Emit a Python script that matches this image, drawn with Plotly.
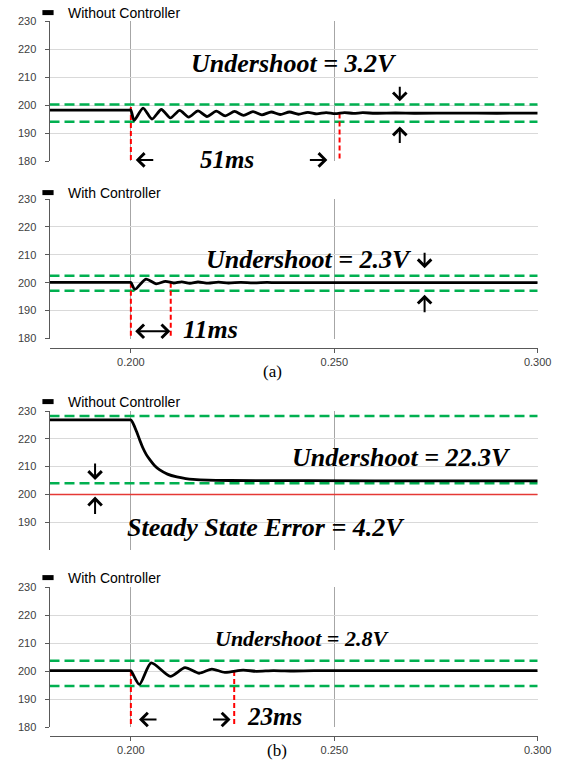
import plotly.graph_objects as go

# ---------------- data ----------------
t_a1 = [0.180, 0.1996, 0.2000, 0.2008, 0.2030, 0.2052, 0.2075, 0.2097, 0.2120, 0.2142, 0.2165,
        0.2187, 0.2210, 0.2232, 0.2255, 0.2277, 0.2300, 0.2322, 0.2345, 0.2367, 0.2390,
        0.2412, 0.2435, 0.2457, 0.2480, 0.2502, 0.2525, 0.2547, 0.2570, 0.2600, 0.2650,
        0.2700, 0.2800, 0.2900, 0.3000]
v_a1 = [198.2, 198.2, 198.2, 194.5, 198.9, 195.0, 198.4, 195.4, 198.1, 195.7, 197.9,
        195.9, 197.8, 196.1, 197.7, 196.3, 197.6, 196.5, 197.5, 196.6, 197.5,
        196.7, 197.4, 196.8, 197.3, 196.9, 197.3, 197.0, 197.25, 197.05, 197.15,
        197.05, 197.1, 197.05, 197.1]

t_a2 = [0.180, 0.1996, 0.2000, 0.2010, 0.2037, 0.2062, 0.2085, 0.2105, 0.2125, 0.2145, 0.2165,
        0.2190, 0.2215, 0.2240, 0.2270, 0.2300, 0.2335, 0.2360, 0.3000]
v_a2 = [200.1, 200.1, 200.1, 197.6, 201.3, 199.6, 200.5, 199.9, 200.3, 199.8, 200.25,
        199.85, 200.2, 199.9, 200.15, 199.95, 200.1, 200.0, 200.05]

t_b1 = [0.180, 0.1996, 0.2000, 0.2006, 0.2014, 0.2022, 0.2030, 0.2038, 0.2047, 0.2058,
        0.2071, 0.2090, 0.2113, 0.2135, 0.2153, 0.2190, 0.2244, 0.2600, 0.3000]
v_b1 = [226.8, 226.8, 226.8, 225.4, 222.6, 219.5, 216.6, 214.3, 212.4, 210.4,
        208.8, 207.3, 206.3, 205.7, 205.4, 205.1, 205.0, 204.9, 204.9]

t_b2 = [0.180, 0.1996, 0.2000, 0.2021, 0.2050, 0.2097, 0.2133, 0.2168, 0.2199, 0.2231, 0.2276,
        0.2308, 0.2350, 0.2400, 0.2450, 0.3000]
v_b2 = [200.1, 200.1, 200.1, 195.2, 202.9, 198.1, 201.2, 199.2, 200.7, 199.5, 200.3,
        199.9, 200.15, 200.0, 200.1, 200.1]

series_names = ["Without Controller", "With Controller", "Without Controller", "With Controller"]
band_levels = [[200.2, 194.0], [202.5, 197.1], [228.2, 204.0], [203.7, 194.6]]
reference_level_b1 = 200.0
settle_marks = [[0.2000, 0.2513], [0.2000, 0.2098], [], [0.2000, 0.2254]]
settle_tops = [[199.3, 197.0], [200.0, 200.0], [], [200.0, 200.0]]
settle_bottom = 180.3
x_range = [0.18, 0.30]
x_ticks = [0.200, 0.250, 0.300]
x_ticktext = ["0.200", "0.250", "0.300"]
y_range = [180, 230]
y_ticks_full = [180, 190, 200, 210, 220, 230]
y_ticks_b1 = [190, 200, 210, 220, 230]

# ---------------- layout geometry (pixels of a 565 x 774 page) ----------------
W, H = 565, 774
def py(p):
    return 1 - p / H
xdom = [49.5 / W, 537.7 / W]
panels_px = [(21, 161), (199, 338.5), (411, 550), (587, 727)]
ydoms = [[py(b), py(t)] for t, b in panels_px]

fig = go.Figure()
times = [t_a1, t_a2, t_b1, t_b2]
vals = [v_a1, v_a2, v_b1, v_b2]
GREEN = "#00B050"
RED = "#FF0000"

for i in range(4):
    xa = "x" if i == 0 else f"x{i+1}"
    ya = "y" if i == 0 else f"y{i+1}"
    lg = "legend" if i == 0 else f"legend{i+1}"
    for lvl in band_levels[i]:
        fig.add_trace(go.Scatter(x=x_range, y=[lvl, lvl], mode="lines", xaxis=xa, yaxis=ya,
                                 line=dict(color=GREEN, width=2.5, dash="10px,5px"),
                                 showlegend=False, hoverinfo="skip"))
    if i == 2:
        fig.add_trace(go.Scatter(x=x_range, y=[reference_level_b1] * 2, mode="lines",
                                 xaxis=xa, yaxis=ya, line=dict(color="#E53935", width=1.5),
                                 showlegend=False, hoverinfo="skip"))
    for tm, top in zip(settle_marks[i], settle_tops[i]):
        fig.add_trace(go.Scatter(x=[tm, tm], y=[top, settle_bottom], mode="lines",
                                 xaxis=xa, yaxis=ya,
                                 line=dict(color=RED, width=2, dash="5px,3px"),
                                 showlegend=False, hoverinfo="skip"))
    fig.add_trace(go.Scatter(x=times[i], y=vals[i], mode="lines", xaxis=xa, yaxis=ya,
                             line=dict(color="black", width=2.8, shape="spline", smoothing=0.7),
                             showlegend=False, name=series_names[i]))
    fig.add_trace(go.Scatter(x=[None], y=[None], mode="markers", xaxis=xa, yaxis=ya,
                             marker=dict(symbol="line-ew", size=8, color="black",
                                         line=dict(color="black", width=5)),
                             name=series_names[i], legend=lg, showlegend=True))

axis_font = dict(family="Liberation Sans, Arial", size=11, color="#404040")
layout = dict(width=W, height=H, margin=dict(l=0, r=0, t=0, b=0, autoexpand=False),
              paper_bgcolor="white", plot_bgcolor="white", showlegend=True)

legend_y = [11, 191, 400, 576]
for i in range(4):
    sfx = "" if i == 0 else str(i + 1)
    bottom_axis = i in (1, 3)
    xd = dict(domain=xdom, range=x_range, tickvals=x_ticks, ticktext=x_ticktext,
              showgrid=True, gridcolor="#A6A6A6", gridwidth=1, zeroline=False,
              showticklabels=bottom_axis, tickfont=axis_font, fixedrange=True)
    if bottom_axis:
        xd.update(anchor="free", position=py(panels_px[i][1] + 9), showline=True,
                  linecolor="#595959", linewidth=1, ticks="outside", ticklen=4,
                  tickcolor="#595959")
    else:
        xd.update(anchor="y" + sfx, showline=False, ticks="")
    layout["xaxis" + sfx] = xd
    layout["yaxis" + sfx] = dict(domain=ydoms[i], range=y_range, anchor="x" + sfx,
                                 tickvals=y_ticks_b1 if i == 2 else y_ticks_full,
                                 showgrid=True, gridcolor="#D9D9D9", gridwidth=1,
                                 zeroline=False, showline=True, linecolor="#595959",
                                 linewidth=1, ticks="outside", ticklen=4,
                                 tickcolor="#595959", tickfont=axis_font,
                                 ticklabelstandoff=6, fixedrange=True)
    layout["legend" + sfx] = dict(x=28 / W, y=py(legend_y[i] - 14), xanchor="left",
                                  yanchor="top", bgcolor="rgba(0,0,0,0)",
                                  font=dict(family="Liberation Sans, Arial", size=14,
                                            color="black"),
                                  itemwidth=30, borderwidth=0)
fig.update_layout(**layout)

big = dict(family="Liberation Serif, Times New Roman", size=26, color="black",
           weight="bold", style="italic")
# (axis refs, left edge x, centre y, text, font size)
texts = [
    ("x", "y", 0.2144, 215.0, "Undershoot = 3.2V", 26),
    ("x", "y", 0.2165, 180.7, "51ms", 25),
    ("x2", "y2", 0.2180, 208.3, "Undershoot = 2.3V", 26),
    ("x2", "y2", 0.2122, 183.3, "11ms", 26),
    ("x3", "y3", 0.2392, 213.1, "Undershoot = 22.3V", 26),
    ("x3", "y3", 0.1985, 188.0, "Steady State Error = 4.2V", 26),
    ("x4", "y4", 0.2202, 211.5, "Undershoot = 2.8V", 22),
    ("x4", "y4", 0.2281, 183.6, "23ms", 25),
]
for xr, yr, x, y, s, size in texts:
    f = dict(big)
    f["size"] = size
    fig.add_annotation(xref=xr, yref=yr, x=x, y=y, text=s, showarrow=False, font=f,
                       xanchor="left")

arrows = [
    ("x", "y", 0.2012, 180.4, 19, 0),
    ("x", "y", 0.2483, 180.4, -19, 0),
    ("x", "y", 0.2661, 201.3, 0, -16),
    ("x", "y", 0.2661, 192.3, 0, 18),
    ("x2", "y2", 0.2722, 205.2, 0, -17),
    ("x2", "y2", 0.2722, 195.7, 0, 19),
    ("x3", "y3", 0.1912, 205.2, 0, -18),
    ("x3", "y3", 0.1912, 199.2, 0, 19),
    ("x4", "y4", 0.2020, 182.7, 19, 0),
    ("x4", "y4", 0.2245, 182.7, -19, 0),
]
for xr, yr, x, y, ax, ay in arrows:
    fig.add_annotation(xref=xr, yref=yr, x=x, y=y, ax=ax, ay=ay, text="", showarrow=True,
                       arrowhead=4, arrowsize=1.3, arrowwidth=2, arrowcolor="black")
fig.add_annotation(xref="x2", yref="y2", x=0.2097, y=182.6, axref="x2", ayref="y2",
                   ax=0.2007, ay=182.6, text="", showarrow=True, arrowhead=4,
                   startarrowhead=4, arrowside="end+start", arrowsize=1.3,
                   startarrowsize=1.3, arrowwidth=2, arrowcolor="black")

cap = dict(family="Liberation Serif, Times New Roman", size=17, color="black")
fig.add_annotation(xref="paper", yref="paper", x=272 / W, y=py(371), text="(a)",
                   showarrow=False, font=cap)
fig.add_annotation(xref="paper", yref="paper", x=277 / W, y=py(762), text="(b)",
                   showarrow=False, font=cap)

fig.write_html("out.html")
